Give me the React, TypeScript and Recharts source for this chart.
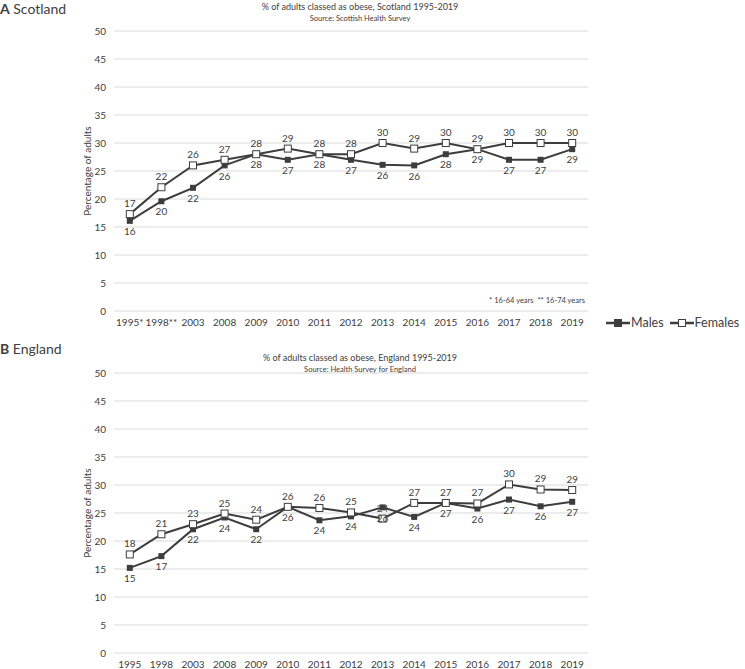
import { LineChart, Line, XAxis, YAxis, CartesianGrid, LabelList } from "recharts";

const scotlandYears = ["1995*", "1998**", "2003", "2008", "2009", "2010", "2011", "2012", "2013", "2014", "2015", "2016", "2017", "2018", "2019"];
const scotlandMales = [16.1, 19.6, 22.0, 26.0, 28.0, 27.0, 28.0, 27.0, 26.1, 26.0, 28.0, 28.9, 27.0, 27.0, 28.9];
const scotlandFemales = [17.3, 22.1, 26.0, 27.0, 28.0, 29.0, 28.0, 28.0, 30.0, 29.0, 30.0, 28.9, 30.0, 30.0, 30.0];

const englandYears = ["1995", "1998", "2003", "2008", "2009", "2010", "2011", "2012", "2013", "2014", "2015", "2016", "2017", "2018", "2019"];
const englandMales = [15.2, 17.3, 22.1, 24.2, 22.1, 26.1, 23.7, 24.4, 26.0, 24.3, 26.8, 25.8, 27.4, 26.2, 27.0];
const englandFemales = [17.6, 21.2, 23.0, 24.9, 23.8, 26.1, 25.9, 25.1, 24.0, 26.8, 26.8, 26.7, 30.1, 29.2, 29.1];

const yTicks = [0, 5, 10, 15, 20, 25, 30, 35, 40, 45, 50];
const seriesNames = ["Males", "Females"];

const FONT = "Lato, 'Open Sans', sans-serif";
const INK = "#3d3d3d";
const TEXT = "#404040";

function buildRows(years: string[], males: number[], females: number[]) {
  return years.map((year, i) => ({ year, males: males[i], females: females[i] }));
}

const maleDot = (p: any) => (
  <rect key={`m-${p.index}`} x={p.cx - 3} y={p.cy - 3} width={6} height={6} fill={INK} />
);
const femaleDot = (p: any) => (
  <rect
    key={`f-${p.index}`}
    x={p.cx - 3.5}
    y={p.cy - 3.5}
    width={7}
    height={7}
    fill="#fff"
    stroke={INK}
    strokeWidth={1}
  />
);

// legend drawn as plain html so it doesn't eat into the plot area
function LegendBox() {
  return (
    <div
      style={{
        position: "absolute",
        left: 606,
        top: 315,
        display: "flex",
        gap: 6,
        fontFamily: FONT,
        fontSize: 12.5,
        color: TEXT,
      }}
    >
      {seriesNames.map((name) => {
        const male = name === "Males";
        return (
          <div key={name} style={{ display: "flex", alignItems: "center" }}>
            <svg width={24} height={10} style={{ marginRight: 1 }}>
              <line x1={0} y1={5} x2={24} y2={5} stroke={INK} strokeWidth={2.5} />
              <rect
                x={male ? 8.5 : 8.5}
                y={male ? 1.5 : 1.5}
                width={7}
                height={7}
                fill={male ? INK : "#fff"}
                stroke={INK}
                strokeWidth={1}
              />
            </svg>
            <span>{name}</span>
          </div>
        );
      })}
    </div>
  );
}

function ObesityChart({ years, males, females }: { years: string[]; males: number[]; females: number[] }) {
  const data = buildRows(years, males, females);
  return (
    <LineChart width={745} height={327} data={data} margin={{ top: 31, right: 157, bottom: 0, left: 84 }}>
      <CartesianGrid horizontal vertical={false} stroke="#d9d9d9" strokeWidth={1.2} />
      <XAxis
        dataKey="year"
        interval={0}
        height={16}
        padding={{ left: 15.8, right: 15.8 }}
        axisLine={false}
        tickLine={false}
        tick={{ fill: TEXT, fontSize: 10, fontFamily: FONT }}
        tickMargin={2}
      />
      <YAxis
        width={30}
        domain={[0, 50]}
        ticks={yTicks}
        axisLine={false}
        tickLine={false}
        tick={{ fill: TEXT, fontSize: 10, fontFamily: FONT }}
        label={{
          value: "Percentage of adults",
          angle: -90,
          position: "insideLeft",
          offset: 3,
          style: { textAnchor: "middle", fill: TEXT, fontSize: 10, fontFamily: FONT },
        }}
      />
      <Line
        type="linear"
        dataKey="males"
        name="Males"
        stroke={INK}
        strokeWidth={2}
        dot={maleDot}
        isAnimationActive={false}
      >
        <LabelList
          dataKey="males"
          position="bottom"
          offset={7}
          formatter={(v: any) => Math.round(Number(v))}
          style={{ fill: TEXT, fontSize: 10, fontFamily: FONT }}
        />
      </Line>
      <Line
        type="linear"
        dataKey="females"
        name="Females"
        stroke={INK}
        strokeWidth={2}
        dot={femaleDot}
        isAnimationActive={false}
      >
        <LabelList
          dataKey="females"
          position="top"
          offset={7}
          formatter={(v: any) => Math.round(Number(v))}
          style={{ fill: TEXT, fontSize: 10, fontFamily: FONT }}
        />
      </Line>
    </LineChart>
  );
}

const panelLabel: React.CSSProperties = {
  position: "absolute",
  left: 0,
  fontFamily: FONT,
  fontSize: 14,
  color: "#404040",
  lineHeight: "16px",
};

const title: React.CSSProperties = {
  position: "absolute",
  left: 160,
  width: 400,
  textAlign: "center",
  fontFamily: FONT,
  color: TEXT,
};

export default function App() {
  return (
    <div
      style={{
        position: "absolute",
        left: 0,
        top: 0,
        width: 745,
        height: 669,
        background: "#fff",
        overflow: "hidden",
      }}
    >
      <div style={{ position: "absolute", left: 0, top: 0 }}>
        <ObesityChart years={scotlandYears} males={scotlandMales} females={scotlandFemales} />
      </div>
      <div style={{ position: "absolute", left: 0, top: 342 }}>
        <ObesityChart years={englandYears} males={englandMales} females={englandFemales} />
      </div>

      <LegendBox />

      <div style={{ ...panelLabel, top: 1 }}>
        <b>A</b> Scotland
      </div>
      <div style={{ ...title, top: 1, fontSize: 9 }}>% of adults classed as obese, Scotland 1995-2019</div>
      <div style={{ ...title, top: 14, fontSize: 7.5 }}>Source: Scottish Health Survey</div>
      <div
        style={{
          position: "absolute",
          left: 440,
          width: 145,
          top: 296,
          textAlign: "right",
          fontFamily: FONT,
          fontSize: 7.5,
          color: TEXT,
          whiteSpace: "pre",
        }}
      >
        {"* 16-64 years  ** 16-74 years"}
      </div>

      <div style={{ ...panelLabel, top: 341 }}>
        <b>B</b> England
      </div>
      <div style={{ ...title, top: 352, fontSize: 9 }}>% of adults classed as obese, England 1995-2019</div>
      <div style={{ ...title, top: 365, fontSize: 7.5 }}>Source: Health Survey for England</div>
    </div>
  );
}
